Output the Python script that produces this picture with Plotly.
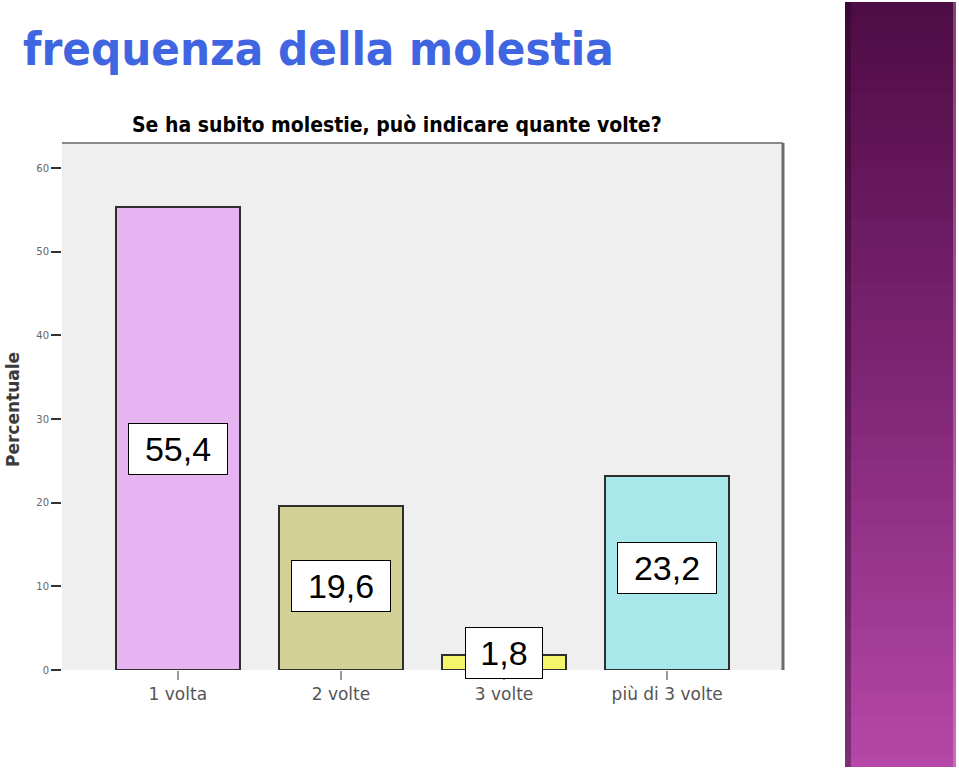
import plotly.graph_objects as go
import numpy as np

# ---- data ----
categories = ["1 volta", "2 volte", "3 volte", "più di 3 volte"]
percent = [55.4, 19.6, 1.8, 23.2]
value_labels = ["55,4", "19,6", "1,8", "23,2"]
y_ticks = [0, 10, 20, 30, 40, 50, 60]
y_tick_labels = ["0", "10", "20", "30", "40", "50", "60"]

title_text = "frequenza della molestia"
subtitle_text = "Se ha subito molestie, può indicare quante volte?"
y_title = "Percentuale"

# ---- styling ----
bar_colors = ["#e6b4f0", "#d3d096", "#f5f56a", "#a8e8ea"]
label_y = [26.4, 10.0, 2.0, 12.2]       # vertical position of the value boxes
label_w = [90, 90, 68, 90]

W, H = 959, 769
ML, MR, MT, MB = 62, 176, 143, 99
PW, PH = W - ML - MR, H - MT - MB

def px(x):
    return (x - ML) / PW

def py(y):
    return (H - MB - y) / PH

fig = go.Figure()
fig.add_trace(go.Bar(
    x=categories, y=percent, width=0.76,
    marker=dict(color=bar_colors, line=dict(color="#2e2e2e", width=2)),
    hoverinfo="x+y", showlegend=False,
))

annotations = []
for c, lab, ly, lw in zip(categories, value_labels, label_y, label_w):
    annotations.append(dict(
        x=c, y=ly, xref="x", yref="y", text=lab, showarrow=False,
        font=dict(family="Liberation Sans, Arial, sans-serif", size=34, color="#000"),
        bgcolor="#ffffff", bordercolor="#000", borderwidth=1, borderpad=4,
        width=lw, height=42, align="center", valign="middle",
    ))

annotations.append(dict(
    x=px(318), y=py(48), xref="paper", yref="paper", text=title_text,
    showarrow=False, xanchor="center", yanchor="middle",
    font=dict(family="DejaVu Sans Condensed, DejaVu Sans, sans-serif", size=47,
              color="#3f66e0", weight="bold"),
))
annotations.append(dict(
    x=px(397), y=py(125), xref="paper", yref="paper", text=subtitle_text,
    showarrow=False, xanchor="center", yanchor="middle",
    font=dict(family="DejaVu Sans Condensed, DejaVu Sans, sans-serif", size=21,
              color="#000", weight="bold"),
))
annotations.append(dict(
    x=px(13), y=py(410), xref="paper", yref="paper", text=y_title,
    showarrow=False, xanchor="center", yanchor="middle", textangle=-90,
    font=dict(family="DejaVu Sans, sans-serif", size=17, color="#3a3a3a", weight="bold"),
))

shapes = []
# decorative purple side panel (vertical gradient built from strips)
top = np.array([78, 12, 68])
mid = np.array([128, 38, 118])
bot = np.array([182, 72, 168])
n = 60
y0p, y1p = 2, 767
edges = np.linspace(y0p, y1p, n + 1)
for i in range(n):
    t = (i + 0.5) / n
    if t < 0.5:
        col = top + (mid - top) * (t / 0.5)
    else:
        col = mid + (bot - mid) * ((t - 0.5) / 0.5)
    col = col.astype(int)
    shapes.append(dict(
        type="rect", xref="paper", yref="paper", layer="below",
        x0=px(845), x1=px(956), y0=py(min(edges[i + 1] + 3, y1p)), y1=py(edges[i]),
        fillcolor=f"rgb({col[0]},{col[1]},{col[2]})", line=dict(width=0),
    ))
# left shadow of the panel
shapes.append(dict(type="rect", xref="paper", yref="paper",
                   x0=px(845), x1=px(851), y0=py(767), y1=py(2),
                   fillcolor="rgba(30,0,30,0.35)", line=dict(width=0)))
# right highlight
shapes.append(dict(type="rect", xref="paper", yref="paper",
                   x0=px(953), x1=px(956), y0=py(767), y1=py(2),
                   fillcolor="rgba(255,200,240,0.30)", line=dict(width=0)))
# plot frame: top and right
shapes.append(dict(type="line", xref="paper", yref="paper",
                   x0=0, x1=1, y0=1, y1=1, line=dict(color="#8a8a8a", width=2)))
shapes.append(dict(type="line", xref="paper", yref="paper",
                   x0=1, x1=1, y0=0, y1=1, line=dict(color="#6a6a6a", width=3)))

fig.update_layout(
    width=W, height=H,
    margin=dict(l=ML, r=MR, t=MT, b=MB),
    paper_bgcolor="#ffffff", plot_bgcolor="#efefef",
    annotations=annotations, shapes=shapes,
    bargap=0,
    xaxis=dict(
        type="category", range=[-0.71, 3.71], showgrid=False, zeroline=False,
        showline=False, ticks="outside", ticklen=9, tickwidth=2, tickcolor="#9a9a9a",
        tickfont=dict(family="DejaVu Sans, sans-serif", size=17, color="#555"),
        fixedrange=True,
    ),
    yaxis=dict(
        range=[0, 63], tickvals=y_ticks, ticktext=y_tick_labels,
        showgrid=False, zeroline=False, showline=False,
        ticks="outside", ticklen=10, tickwidth=2, tickcolor="#333",
        tickfont=dict(family="DejaVu Sans, sans-serif", size=10, color="#666"),
        fixedrange=True,
    ),
)

fig.write_html("out.html")
